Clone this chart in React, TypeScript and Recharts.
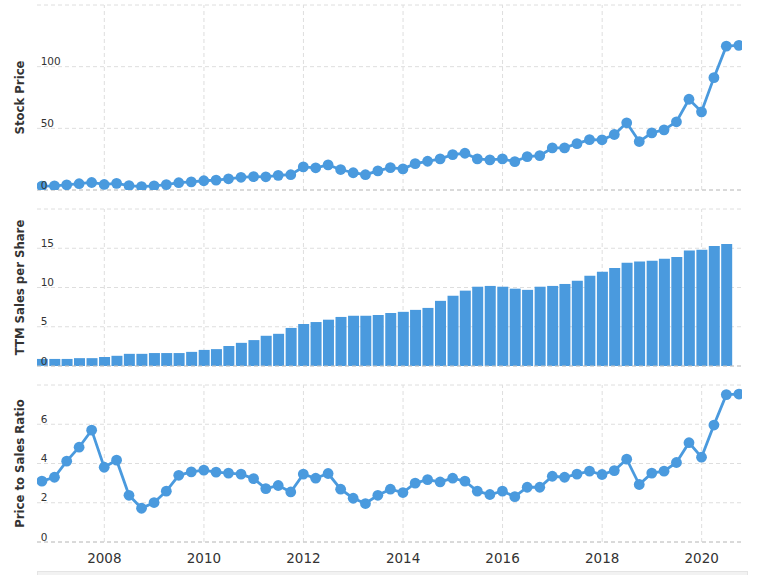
import React from 'react';
import {
  LineChart,
  Line,
  BarChart,
  Bar,
  XAxis,
  YAxis,
  CartesianGrid,
  ReferenceLine,
  Label,
} from 'recharts';

// ---- data -------------------------------------------------------------
const dates = [
  '2006-09-30', '2006-12-31',
  '2007-03-31', '2007-06-30', '2007-09-30', '2007-12-31',
  '2008-03-31', '2008-06-30', '2008-09-30', '2008-12-31',
  '2009-03-31', '2009-06-30', '2009-09-30', '2009-12-31',
  '2010-03-31', '2010-06-30', '2010-09-30', '2010-12-31',
  '2011-03-31', '2011-06-30', '2011-09-30', '2011-12-31',
  '2012-03-31', '2012-06-30', '2012-09-30', '2012-12-31',
  '2013-03-31', '2013-06-30', '2013-09-30', '2013-12-31',
  '2014-03-31', '2014-06-30', '2014-09-30', '2014-12-31',
  '2015-03-31', '2015-06-30', '2015-09-30', '2015-12-31',
  '2016-03-31', '2016-06-30', '2016-09-30', '2016-12-31',
  '2017-03-31', '2017-06-30', '2017-09-30', '2017-12-31',
  '2018-03-31', '2018-06-30', '2018-09-30', '2018-12-31',
  '2019-03-31', '2019-06-30', '2019-09-30', '2019-12-31',
  '2020-03-31', '2020-06-30', '2020-09-30',
];

const stockPrice = [
  3.2, 3.3, 4.2, 5.1, 6.1, 4.5, 5.4, 3.6, 2.7, 3.4,
  4.4, 5.9, 6.6, 7.5, 8.0, 9.1, 10.3, 10.8, 10.7, 11.9,
  12.4, 18.7, 18.0, 20.4, 16.6, 14.0, 12.4, 15.5, 18.1, 17.1,
  21.4, 23.3, 25.2, 28.7, 29.8, 25.2, 24.4, 25.2, 23.0, 27.1,
  27.9, 34.1, 34.1, 37.6, 40.9, 40.7, 45.0, 54.5, 39.3, 46.3,
  48.8, 55.3, 73.6, 63.4, 91.1, 116.6, 117.3,
];

const ttmSalesPerShare = [
  0.9, 0.9, 0.9, 1.0, 1.0, 1.15, 1.3, 1.55, 1.55, 1.65,
  1.65, 1.65, 1.8, 2.05, 2.15, 2.55, 2.95, 3.3, 3.85, 4.1,
  4.85, 5.35, 5.6, 5.9, 6.25, 6.4, 6.4, 6.5, 6.75, 6.9,
  7.15, 7.4, 8.3, 8.95, 9.6, 10.1, 10.2, 10.1, 9.85, 9.7,
  10.1, 10.2, 10.45, 10.85, 11.5, 12.0, 12.5, 13.15, 13.3, 13.4,
  13.65, 13.9, 14.7, 14.8, 15.3, 15.55,
];

const priceToSales = [
  3.10, 3.30, 4.12, 4.83, 5.70, 3.81, 4.17, 2.38, 1.72, 2.01,
  2.59, 3.40, 3.57, 3.66, 3.56, 3.51, 3.46, 3.23, 2.72, 2.88,
  2.55, 3.46, 3.25, 3.49, 2.69, 2.23, 1.96, 2.38, 2.69, 2.52,
  3.00, 3.18, 3.06, 3.25, 3.10, 2.59, 2.42, 2.59, 2.31, 2.79,
  2.79, 3.35, 3.30, 3.46, 3.61, 3.44, 3.64, 4.22, 2.93, 3.51,
  3.61, 4.05, 5.06, 4.32, 5.96, 7.51, 7.54,
];

const yearTicks = [2008, 2010, 2012, 2014, 2016, 2018, 2020];
const priceTicks = [0, 50, 100, 150];
const salesTicks = [0, 5, 10, 15, 20];
const ratioTicks = [0, 2, 4, 6, 8];

// ---- derived ----------------------------------------------------------
const DAY = 86400000;
const toTs = (d: string) => Date.parse(d + 'T00:00:00Z');
const xTicks = yearTicks.map((y) => Date.UTC(y, 0, 1));
const xDomain = [Date.UTC(2008, 0, 1) - 494 * DAY, Date.UTC(2020, 0, 1) + 296 * DAY];

const rows = dates.map((d, i) => ({
  t: toTs(d),
  price: stockPrice[i],
  ratio: priceToSales[i],
}));
const salesRows = ttmSalesPerShare.map((v, i) => ({ t: toTs(dates[i]), sales: v }));

// ---- styles -----------------------------------------------------------
const COLOR = '#4a9ade';
const FONT = '"DejaVu Sans", Verdana, sans-serif';
const GRID = '#dedede';
const AXIS = '#c4c4c4';
const W = 758;
const MARGIN_L = 36;
const MARGIN_R = 16;

const makeYTick = (hideValue: number) => (props: any) => {
  const { x, y, payload } = props;
  if (payload.value === hideValue) return <g />;
  return (
    <text x={x + 3.7} y={y - 1.5} fontSize={10.5} fill="#333" fontFamily={FONT} textAnchor="start">
      {payload.value}
    </text>
  );
};

const YearTick = (props: any) => {
  const { x, y, payload } = props;
  const yr = new Date(payload.value).getUTCFullYear();
  return (
    <text x={x} y={y + 21} fontSize={13.5} fill="#333" fontFamily={FONT} textAnchor="middle">
      {yr}
    </text>
  );
};

const EmptyTick = () => <g />;

const AxisTitle = (text: string) => (props: any) => {
  const vb = props.viewBox || {};
  const cy = (vb.y || 0) + (vb.height || 0) / 2;
  const cx = 20;
  return (
    <text
      x={cx}
      y={cy}
      transform={`rotate(-90 ${cx} ${cy})`}
      textAnchor="middle"
      dominantBaseline="central"
      fontSize={11.7}
      fontWeight="bold"
      fill="#333"
      fontFamily={FONT}
    >
      {text}
    </text>
  );
};

const axisLineProps = { stroke: AXIS, strokeDasharray: '4 3' };
const dotStyle = { r: 5.4, fill: COLOR, stroke: COLOR, strokeWidth: 0 };

type PanelCfg = {
  top: number;
  height: number;
  marginTop: number;
  marginBottom: number;
  xAxisHeight: number;
  showYears: boolean;
  yDomain: number[];
  yTicks: number[];
  title: string;
  key: string;
};

const panels: Record<string, PanelCfg> = {
  price: {
    top: 0, height: 200, marginTop: 5, marginBottom: 9, xAxisHeight: 1, showYears: false,
    yDomain: [0, 150], yTicks: priceTicks, title: 'Stock Price', key: 'price',
  },
  sales: {
    top: 200, height: 176, marginTop: 9, marginBottom: 9, xAxisHeight: 1, showYears: false,
    yDomain: [0, 20], yTicks: salesTicks, title: 'TTM Sales per Share', key: 'sales',
  },
  ratio: {
    top: 376, height: 199, marginTop: 9, marginBottom: 0, xAxisHeight: 33, showYears: true,
    yDomain: [0, 8], yTicks: ratioTicks, title: 'Price to Sales Ratio', key: 'ratio',
  },
};

// axes; `front` = the overlay layer which shows tick labels, titles and axis line
const axes = (cfg: PanelCfg, front: boolean) => [
  <XAxis
    key="x"
    dataKey="t"
    type="number"
    domain={xDomain}
    ticks={xTicks}
    allowDataOverflow
    height={cfg.xAxisHeight}
    tickSize={0}
    tickMargin={0}
    tick={front && cfg.showYears ? YearTick : EmptyTick}
    tickLine={false}
    axisLine={front ? axisLineProps : false}
    interval={0}
  />,
  <YAxis
    key="y"
    type="number"
    domain={cfg.yDomain}
    ticks={cfg.yTicks}
    allowDataOverflow
    width={1}
    tickSize={0}
    tickMargin={0}
    tickLine={false}
    axisLine={false}
    interval={0}
    tick={front ? makeYTick(cfg.yDomain[1]) : EmptyTick}
  >
    {front ? <Label content={AxisTitle(cfg.title)} /> : null}
  </YAxis>,
];

const backLayer = (cfg: PanelCfg, data: any[]) => (
  <div style={{ position: 'absolute', left: 0, top: cfg.top }}>
    <LineChart
      width={W}
      height={cfg.height}
      data={data}
      margin={{ top: cfg.marginTop, right: MARGIN_R, bottom: cfg.marginBottom, left: MARGIN_L }}
    >
      <CartesianGrid stroke={GRID} strokeDasharray="4 3" vertical={false} />
      {xTicks.map((t) => (
        <ReferenceLine key={t} x={t} stroke={GRID} strokeDasharray="4 3" strokeWidth={1} />
      ))}
      <Line
        type="linear"
        dataKey={cfg.key}
        stroke="none"
        strokeOpacity={0}
        dot={false}
        activeDot={false}
        isAnimationActive={false}
      />
      {axes(cfg, false)}
    </LineChart>
  </div>
);

export default function App() {
  const P = panels.price;
  const S = panels.sales;
  const R = panels.ratio;
  return (
    <div style={{ position: 'absolute', left: 0, top: 0, width: W, height: 575, background: '#fff', overflow: 'hidden' }}>
      {backLayer(P, rows)}
      {backLayer(S, salesRows)}
      {backLayer(R, rows)}

      {/* Stock price */}
      <div style={{ position: 'absolute', left: 0, top: P.top }}>
        <LineChart width={W} height={P.height} data={rows} margin={{ top: P.marginTop, right: MARGIN_R, bottom: P.marginBottom, left: MARGIN_L }}>
          <Line
            type="linear"
            dataKey="price"
            stroke={COLOR}
            strokeWidth={2.8}
            dot={dotStyle}
            activeDot={false}
            isAnimationActive={false}
          />
          {axes(P, true)}
        </LineChart>
      </div>

      {/* TTM sales per share */}
      <div style={{ position: 'absolute', left: 0, top: S.top }}>
        <BarChart width={W} height={S.height} data={salesRows} margin={{ top: S.marginTop, right: MARGIN_R, bottom: S.marginBottom, left: MARGIN_L }}>
          <Bar dataKey="sales" fill={COLOR} barSize={11} isAnimationActive={false} />
          {axes(S, true)}
        </BarChart>
      </div>

      {/* Price to sales ratio */}
      <div style={{ position: 'absolute', left: 0, top: R.top }}>
        <LineChart width={W} height={R.height} data={rows} margin={{ top: R.marginTop, right: MARGIN_R, bottom: R.marginBottom, left: MARGIN_L }}>
          <Line
            type="linear"
            dataKey="ratio"
            stroke={COLOR}
            strokeWidth={2.8}
            dot={dotStyle}
            activeDot={false}
            isAnimationActive={false}
          />
          {axes(R, true)}
        </LineChart>
      </div>

      {/* scrollbar strip at the bottom */}
      <div
        style={{
          position: 'absolute',
          left: 37,
          top: 571,
          width: 709,
          height: 10,
          background: '#f2f2f2',
          border: '1px solid #e4e4e4',
        }}
      />
    </div>
  );
}
